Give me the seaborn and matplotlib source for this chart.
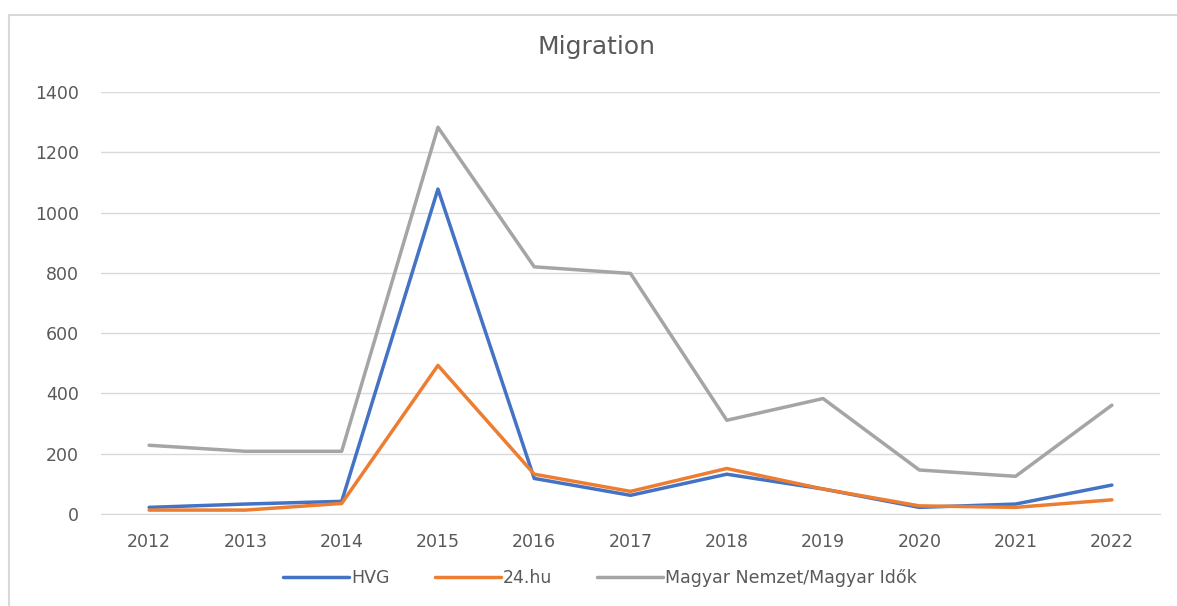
import pandas as pd
import numpy as np
import matplotlib as mpl
mpl.use('Agg')
import matplotlib.pyplot as plt
import seaborn as sns
from matplotlib.patches import Rectangle

years = [2012, 2013, 2014, 2015, 2016, 2017, 2018, 2019, 2020, 2021, 2022]
hvg = [22, 33, 42, 1078, 118, 62, 132, 83, 22, 33, 96]
hu24 = [13, 13, 35, 493, 132, 75, 151, 83, 27, 22, 47]
magyar = [228, 208, 208, 1283, 820, 798, 311, 383, 146, 125, 361]
series_names = ['HVG', '24.hu', 'Magyar Nemzet/Magyar Idők']
colors = ['#4472C4', '#ED7D31', '#A5A5A5']

df = pd.DataFrame({'year': years, series_names[0]: hvg,
                   series_names[1]: hu24, series_names[2]: magyar})
long = df.melt(id_vars='year', var_name='source', value_name='count')
long['pos'] = long['year'].map({y: i for i, y in enumerate(years)})

sns.set_style('white')
plt.rcParams['font.family'] = ['DejaVu Sans']

fig = plt.figure(figsize=(11.77, 6.06), dpi=100)
ax = fig.add_axes([101 / 1177, 92 / 606, 1059 / 1177, 422 / 606])

# chart area border, cut off at right/bottom like the screenshot
fig.patches.append(Rectangle((9 / 1177, -0.1), 1.5, (606 - 15) / 606 + 0.1,
                             transform=fig.transFigure, fill=False,
                             edgecolor='#d9d9d9', linewidth=1.5, clip_on=False))

sns.lineplot(data=long, x='pos', y='count', hue='source', palette=colors,
             hue_order=series_names, linewidth=2.5, ax=ax, legend=False)

ax.set_xlim(-0.5, len(years) - 0.5)
ax.set_ylim(0, 1400)
ax.set_yticks(range(0, 1401, 200))
ax.set_xticks(range(len(years)))
ax.set_xticklabels([str(y) for y in years])
ax.tick_params(axis='both', length=0, labelsize=12.5, labelcolor='#595959')
ax.tick_params(axis='y', pad=16)
ax.tick_params(axis='x', pad=14)
ax.grid(axis='y', color='#d9d9d9', linewidth=1)
ax.set_axisbelow(True)
for s in ['top', 'right', 'left']:
    ax.spines[s].set_visible(False)
ax.spines['bottom'].set_color('#d9d9d9')
ax.set_xlabel('')
ax.set_ylabel('')

fig.text(597 / 1177, 1 - 47 / 606, 'Migration', ha='center', va='center',
         fontsize=18, color='#595959')

handles = [plt.Line2D([], [], color=c, linewidth=2.5) for c in colors]
fig.legend(handles, series_names, loc='center', bbox_to_anchor=(600 / 1177, 1 - 578 / 606),
           ncol=3, frameon=False, fontsize=12.5, labelcolor='#595959',
           handlelength=3.8, handletextpad=0.1, columnspacing=2.6)

fig.savefig('out.png', dpi=100, facecolor='white')
